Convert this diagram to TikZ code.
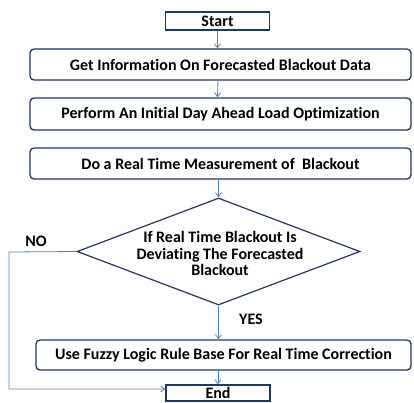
\documentclass[tikz,border=0pt]{standalone}
\usepackage{fontspec}
\setmainfont{Carlito}[Ligatures=CommonOff]
\usetikzlibrary{shapes.geometric, arrows.meta}
\definecolor{BoxNavy}{RGB}{33, 55, 92}
\definecolor{FlowBlue}{RGB}{84, 130, 186}

\begin{document}
\begin{tikzpicture}[x=1pt, y=-1pt,
    txt/.style={font=\bfseries\fontsize{16}{16.5}\selectfont, text=black},
    box/.style={txt, draw=BoxNavy, line width=1.3pt, fill=white, rounded corners=4pt,
      minimum width=381pt, minimum height=31pt, inner sep=0pt},
    term/.style={txt, draw=BoxNavy, line width=1.3pt, fill=white,
      minimum width=104pt, minimum height=18pt, inner sep=0pt},
    decision/.style={diamond, draw=BoxNavy, line width=1.2pt, fill=white,
      minimum width=283pt, minimum height=107pt, inner sep=0pt},
    flow/.style={draw=FlowBlue, line width=0.8pt, -{Straight Barb[length=4pt, width=6pt]}}]
    \useasboundingbox (0,0) rectangle (414,402);

    % Steps
    \node[term] (start) at (217.5,21) {Start};
    \node[box] (info) at (220.5,64.5) {Get Information On Forecasted Blackout Data};
    \node[box, minimum height=32pt] (optim) at (220.5,114) {Perform An Initial Day Ahead Load Optimization};
    \node[box] (measure) at (220.5,163.5) {Do a Real Time Measurement of~~Blackout\hspace{44pt}};

    % Decision
    \node[decision] (deviate) at (218.5,251.5) {};
    \node[txt, align=center] (devtext) at (220,253.5) {If Real Time Blackout Is\\Deviating The Forecasted\\Blackout};

    \node[box, minimum width=375pt, minimum height=30pt] (fuzzy) at (223.5,355) {Use Fuzzy Logic Rule Base For Real Time Correction};
    \node[term, minimum height=16pt] (finish) at (218,393) {End};

    % Arrows
    \draw[flow] (start.south) -- (start.south |- info.north);
    \draw[flow] (218,80) -- (optim.north -| start);
    \draw[flow] (measure.south -| deviate) -- (deviate.north);
    \draw[flow] (deviate.south) -- (deviate.south |- fuzzy.north);
    \draw[flow] (fuzzy.south -| finish) -- (finish.north);

    \coordinate (nocorner) at (9,252);
    \draw[flow] (deviate.west) -- (nocorner) |- ([yshift=4pt]finish.west);

    % Labels
    \node[txt] (nolabel) at (36,241) {NO};
    \node[txt] (yeslabel) at (251,319) {YES};
\end{tikzpicture}
\end{document}
